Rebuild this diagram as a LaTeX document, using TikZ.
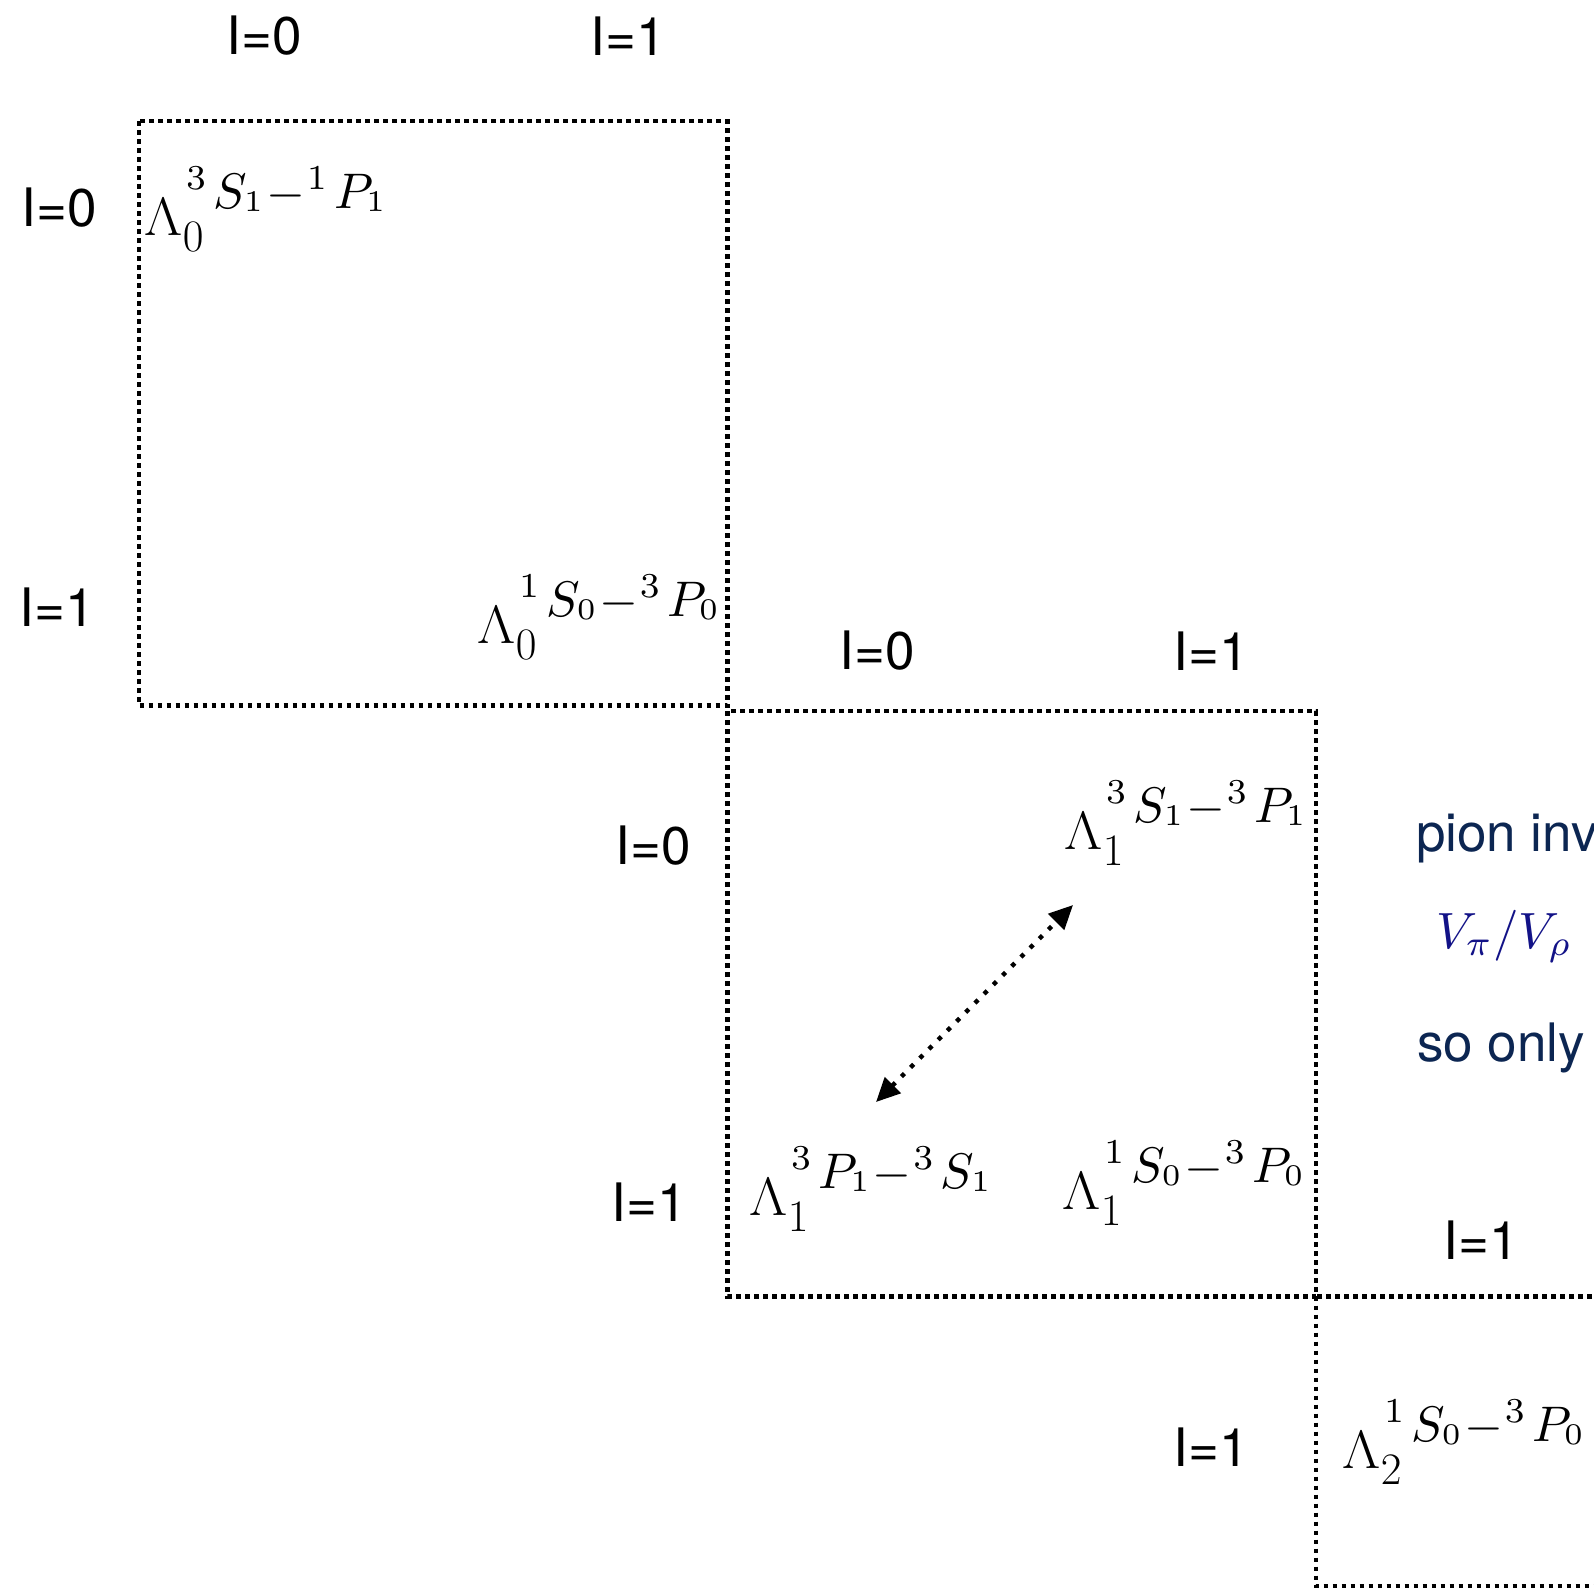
\documentclass[tikz,border=0pt]{standalone}
\usepackage{fix-cm}
\usepackage{graphicx}
\usepackage[no-math]{fontspec}
\newfontfamily\lblfont{TeX Gyre Heros}
\usetikzlibrary{arrows.meta}

\definecolor{navytext}{RGB}{12,38,82}
\definecolor{navymath}{RGB}{18,18,135}

% a piece of math set at an explicit size
\newcommand\fsz[2]{\hbox{\fontsize{#1}{#1}\selectfont$#2$}}
% one spectroscopic term (set at 10pt): prescript, letter, subscript
\newcommand\specterm[3]{%
  \raisebox{3.8pt}{\fsz{7}{#1}}\kern1.5pt
  #2_{\raisebox{0.9pt}{\fsz{6}{#3}}}}
% Lambda_{#1}^{ {}^{#2}#3_{#4} - {}^{#5}#6_{#7} }
\newcommand\lamterm[7]{%
  \scalebox{1.1}[1]{$\Lambda$}%
  \rlap{\kern0.4pt\raisebox{-8pt}{\fsz{22.5}{#1}}}%
  \kern2pt
  \raisebox{13.5pt}{\scalebox{2.5}{\fsz{10}{\specterm{#2}{#3}{#4}\kern0.3pt{-}\kern0.3pt\specterm{#5}{#6}{#7}}}}}

\tikzset{
  every node/.style={inner sep=0pt, outer sep=0pt},
  lab/.style={anchor=center, font=\lblfont\fontsize{26.5}{30}\selectfont},
  term/.style={anchor=base west, font=\fontsize{27}{32}\selectfont},
  note/.style={anchor=base west, text=navytext, font=\lblfont\fontsize{26.5}{30}\selectfont},
  notemath/.style={anchor=base west, text=navymath},
  blockbox/.style={line width=2.3pt, dash pattern=on 2.3pt off 2.2pt},
  mixlink/.style={line width=2.2pt, dash pattern=on 2.2pt off 4.3pt,
    {Triangle[length=12pt,width=11pt]}-{Triangle[length=12pt,width=11pt]}},
}

\begin{document}
\begin{tikzpicture}[x=0.5pt, y=-0.5pt]
  \useasboundingbox (0,0) rectangle (1594,1590);
  \clip (0,0) rectangle (1594,1590);

  % isospin blocks
  \draw[blockbox] (139,121) rectangle (727.5,705.5);
  \draw[blockbox] (727.5,711) rectangle (1316,1296.5);
  \draw[blockbox] (1316,1296.5) rectangle (1700,1586);

  % column and row labels, first block
  \node[lab] (c00) at (264,36) {I=0};
  \node[lab] (c01) at (628,36) {I=1};
  \node[lab] (r00) at (59,208) {I=0};
  \node[lab] (r01) at (57,607) {I=1};

  % second block
  \node[lab] (c10) at (877,651) {I=0};
  \node[lab] (c11) at (1211,651) {I=1};
  \node[lab] (r10) at (653,846) {I=0};
  \node[lab] (r11) at (649,1202) {I=1};

  % third block
  \node[lab] (c21) at (1481,1240) {I=1};
  \node[lab] (r21) at (1211,1447) {I=1};

  % channel entries
  \node[term] (t0a) at (144,235) {\lamterm{0}{3}{S}{1}{1}{P}{1}};
  \node[term] (t0b) at (477,643) {\lamterm{0}{1}{S}{0}{3}{P}{0}};
  \node[term] (t1a) at (1064,849) {\lamterm{1}{3}{S}{1}{3}{P}{1}};
  \node[term] (t1b) at (749,1215) {\lamterm{1}{3}{P}{1}{3}{S}{1}};
  \node[term] (t1c) at (1062,1209) {\lamterm{1}{1}{S}{0}{3}{P}{0}};
  \node[term] (t2a) at (1342,1468) {\lamterm{2}{1}{S}{0}{3}{P}{0}};

  % mixing between the two Lambda_1 channels
  \coordinate (mixTop) at (1073,905);
  \coordinate (mixBot) at (876,1102);
  \draw[mixlink] (mixBot) -- (mixTop);

  % side notes
  \node[note] (n1) at (1416,851) {pion inv};
  \node[notemath] (n2) at (1436,948) {\scalebox{2.55}{\fsz{10}{V_\pi/V_\rho}}};
  \node[note] (n3) at (1417,1061) {so only};
\end{tikzpicture}
\end{document}
